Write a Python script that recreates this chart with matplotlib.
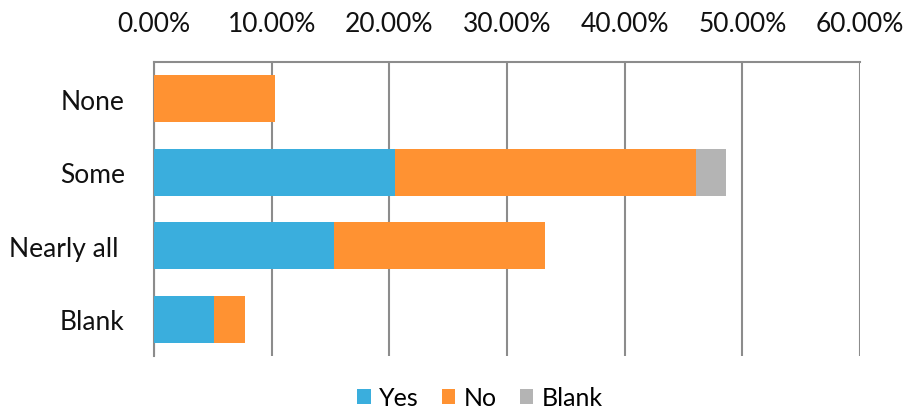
import matplotlib as mpl
mpl.use('Agg')
import matplotlib.pyplot as plt
from matplotlib.ticker import PercentFormatter
import numpy as np

#   Data (percent of responses)
categories = ['None', 'Some', 'Nearly all ', 'Blank']
yes_vals   = [0.0, 20.45, 15.3, 5.1]
no_vals    = [10.25, 25.6, 17.9, 2.6]
blank_vals = [0.0, 2.57, 0.0, 0.0]
series_names = ['Yes', 'No', 'Blank']
x_ticks = [0, 10, 20, 30, 40, 50, 60]

colours = ['#3AAEDD', '#FF9232', '#B4B4B4']
grid_col = '#8C8C8C'
fsize = 19

plt.rcParams['font.family'] = ['Lato', 'DejaVu Sans']

fig = plt.figure(figsize=(9.04, 4.14), dpi=100)
ax = fig.add_axes([154/904, 57/414, 706/904, 294/414])

y = np.arange(len(categories))
left = np.zeros(len(categories))
for vals, name, col in zip([yes_vals, no_vals, blank_vals], series_names, colours):
	ax.barh(y, vals, left=left, height=0.636, color=col, label=name, zorder=3)
	left = left + np.array(vals)

ax.set_ylim(len(categories) - 0.5, -0.5)
ax.set_xlim(0, 60)
ax.set_xticks(x_ticks)
ax.xaxis.set_major_formatter(PercentFormatter(decimals=2))
ax.xaxis.tick_top()
ax.set_yticks(y)
ax.set_yticklabels(categories)
ax.tick_params(axis='x', length=0, pad=19, labelsize=fsize, colors='#111111')
ax.tick_params(axis='y', length=0, pad=21, labelsize=fsize, colors='#111111')

#	Vertical grid lines, left and top lines only
ax.grid(axis='x', color=grid_col, linewidth=1.5, zorder=0)
for side in ['right', 'bottom']:
	ax.spines[side].set_visible(False)
for side in ['left', 'top']:
	ax.spines[side].set_color(grid_col)
	ax.spines[side].set_linewidth(1.5)

fig.legend(loc='center', bbox_to_anchor=(480/904, 15/414), ncol=3, frameon=False,
	fontsize=18, handlelength=0.55, handleheight=0.55, handletextpad=0.35,
	columnspacing=0.9, borderpad=0)

plt.savefig('out.png', dpi=100)
